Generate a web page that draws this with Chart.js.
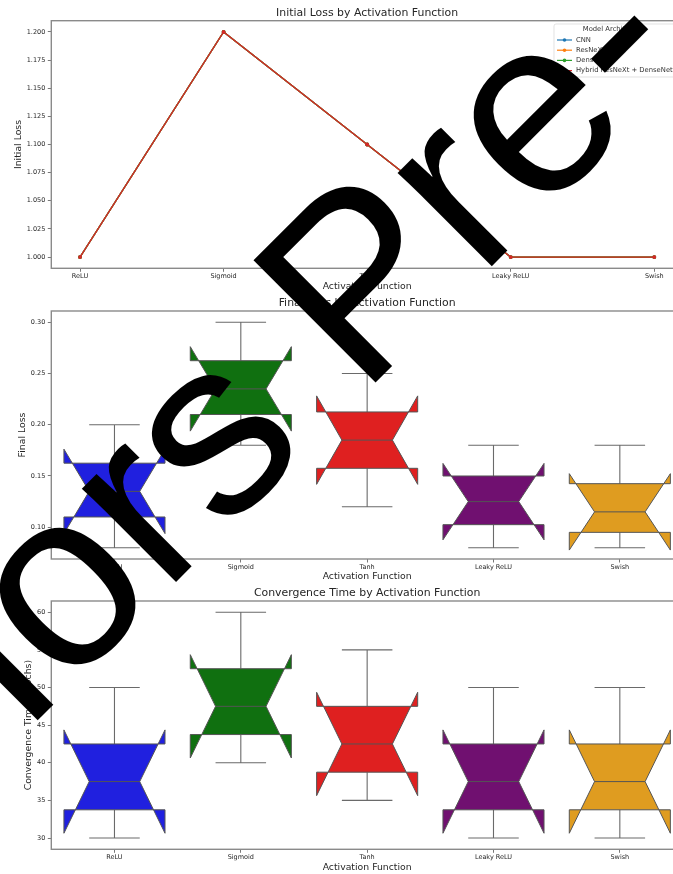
<!DOCTYPE html>
<html>
<head>
<meta charset="utf-8">
<title>Activation Function Comparison</title>
<script src="https://cdn.jsdelivr.net/npm/chart.js@4.4.1/dist/chart.umd.min.js"></script>
<style>
  html, body { margin: 0; padding: 0; background: #fff; }
  #page { position: relative; width: 673px; height: 874px; overflow: hidden; background: #fff; }
  .panel { position: absolute; left: 0; width: 673px; overflow: hidden; }
  .panel canvas { display: block; }
  #overlay { position: absolute; left: 0; top: 0; pointer-events: none; }
</style>
</head>
<body>
<div id="page">
  <div class="panel" style="top:0px;height:293px"><canvas id="initialChart" width="700" height="293"></canvas></div>
  <div class="panel" style="top:291px;height:292px"><canvas id="finalChart" width="700" height="292"></canvas></div>
  <div class="panel" style="top:581px;height:293px"><canvas id="convChart" width="700" height="292"></canvas></div>
  <canvas id="overlay" width="673" height="874"></canvas>
</div>
<script>
// ---- data ----
const activations = ['ReLU', 'Sigmoid', 'Tanh', 'Leaky ReLU', 'Swish'];
const models = ['CNN', 'ResNeXt', 'DenseNet', 'Hybrid ResNeXt + DenseNet'];

// initial loss per activation (identical for every architecture)
const initialLoss = [1.000, 1.200, 1.100, 1.000, 1.000];

// final loss samples per activation (one per architecture)
const finalReLU    = [0.08, 0.12, 0.15, 0.20];
const finalSigmoid = [0.18, 0.22, 0.25, 0.30];
const finalTanh    = [0.12, 0.17, 0.20, 0.25];
const finalLeaky   = [0.08, 0.11, 0.14, 0.18];
const finalSwish   = [0.08, 0.10, 0.13, 0.18];

// convergence time (epochs) samples per activation
const convReLU    = [30, 35, 40, 50];
const convSigmoid = [40, 45, 50, 60];
const convTanh    = [35, 40, 45, 55];
const convLeaky   = [30, 35, 40, 50];
const convSwish   = [30, 35, 40, 50];

// tick values
const initialTicks = [1.000, 1.025, 1.050, 1.075, 1.100, 1.125, 1.150, 1.175, 1.200];
const finalTicks = [0.10, 0.15, 0.20, 0.25, 0.30];
const convTicks = [30, 35, 40, 45, 50, 55, 60];

// ---- styling ----
const modelColors = ['#1f77b4', '#ff7f0e', '#2ca02c', '#d62728'];
const boxColors = ['#2020df', '#107010', '#df2020', '#701070', '#df9c20'];
const FONT = "'DejaVu Sans', sans-serif";
const TEXT = '#262626';
const SPINE = '#8a8a8a';
const TICK_SIZE = 6.5;
const LABEL_SIZE = 9.3;
const TITLE_SIZE = 10.9;

Chart.defaults.font.family = FONT;
Chart.defaults.color = TEXT;

// ---- box statistics (linear-interpolated quartiles, notch = 1.57*IQR/sqrt(n)) ----
function quantile(sorted, q) {
  const p = (sorted.length - 1) * q;
  const lo = Math.floor(p), hi = Math.ceil(p);
  return sorted[lo] + (sorted[hi] - sorted[lo]) * (p - lo);
}
function boxStats(values) {
  const s = [...values].sort((a, b) => a - b);
  const q1 = quantile(s, 0.25), med = quantile(s, 0.5), q3 = quantile(s, 0.75);
  const iqr = q3 - q1;
  const lo = Math.min(...s.filter(v => v >= q1 - 1.5 * iqr));
  const hi = Math.max(...s.filter(v => v <= q3 + 1.5 * iqr));
  const ci = 1.57 * iqr / Math.sqrt(s.length);
  return { q1, med, q3, lo, hi, cilo: med - ci, cihi: med + ci };
}

// ---- plugins ----
const frame = {
  id: 'frame',
  afterDraw(chart) {
    const { ctx, chartArea: a } = chart;
    ctx.save();
    ctx.strokeStyle = SPINE;
    ctx.lineWidth = 1.4;
    ctx.strokeRect(a.left, a.top, a.right - a.left, a.bottom - a.top);
    ctx.restore();
  }
};

const panelTitle = {
  id: 'panelTitle',
  afterDraw(chart, args, opts) {
    const { ctx, chartArea: a } = chart;
    ctx.save();
    ctx.font = `${TITLE_SIZE}px ${FONT}`;
    ctx.fillStyle = TEXT;
    ctx.textAlign = 'center';
    ctx.textBaseline = 'middle';
    ctx.fillText(opts.text, (a.left + a.right) / 2, a.top - opts.gap);
    ctx.restore();
  }
};

const notchedBoxes = {
  id: 'notchedBoxes',
  afterDatasetsDraw(chart, args, opts) {
    const { ctx, scales: { x, y } } = chart;
    const band = x.getPixelForValue(1) - x.getPixelForValue(0);
    const w = band * 0.8;
    opts.stats.forEach((s, i) => {
      const cx = x.getPixelForValue(i);
      const L = cx - w / 2, R = cx + w / 2;
      const nl = cx - w / 4, nr = cx + w / 4;
      const py = v => y.getPixelForValue(v);
      ctx.save();
      // whiskers and caps
      ctx.strokeStyle = '#6a6a6a';
      ctx.lineWidth = 1.1;
      ctx.beginPath();
      ctx.moveTo(cx, py(s.q1)); ctx.lineTo(cx, py(s.lo));
      ctx.moveTo(cx, py(s.q3)); ctx.lineTo(cx, py(s.hi));
      ctx.moveTo(cx - w / 4, py(s.lo)); ctx.lineTo(cx + w / 4, py(s.lo));
      ctx.moveTo(cx - w / 4, py(s.hi)); ctx.lineTo(cx + w / 4, py(s.hi));
      ctx.stroke();
      // notched box
      const pts = [
        [L, s.q1], [R, s.q1], [R, s.cilo], [nr, s.med], [R, s.cihi], [R, s.q3],
        [L, s.q3], [L, s.cihi], [nl, s.med], [L, s.cilo], [L, s.q1]
      ];
      ctx.beginPath();
      pts.forEach(([px, v], k) => k ? ctx.lineTo(px, py(v)) : ctx.moveTo(px, py(v)));
      ctx.closePath();
      ctx.fillStyle = opts.colors[i];
      ctx.fill();
      ctx.strokeStyle = '#555555';
      ctx.lineWidth = 1;
      ctx.stroke();
      // median
      ctx.beginPath();
      ctx.moveTo(nl, py(s.med)); ctx.lineTo(nr, py(s.med));
      ctx.stroke();
      ctx.restore();
    });
  }
};

const modelLegend = {
  id: 'modelLegend',
  afterDraw(chart, args, opts) {
    const { ctx, chartArea: a } = chart;
    const size = 6.8;
    ctx.save();
    ctx.font = `${size}px ${FONT}`;
    const textW = Math.max(...chart.data.datasets.map(d => ctx.measureText(d.label).width));
    const left = a.right - opts.fromRight;
    const top = a.top + 3.3;
    const width = 3 + 15 + 4 + textW + 3;
    const height = 53;
    ctx.globalAlpha = 0.85;
    ctx.fillStyle = '#ffffff';
    ctx.strokeStyle = '#d4d4d4';
    ctx.lineWidth = 0.8;
    ctx.beginPath();
    ctx.roundRect(left, top, width, height, 2);
    ctx.fill();
    ctx.stroke();
    ctx.globalAlpha = 1;
    ctx.fillStyle = '#333';
    ctx.textAlign = 'center';
    ctx.textBaseline = 'middle';
    ctx.fillText(opts.title, left + width / 2, top + 5.3);
    ctx.textAlign = 'left';
    chart.data.datasets.forEach((d, k) => {
      const yy = top + 16 + k * 10.2;
      ctx.strokeStyle = d.borderColor;
      ctx.lineWidth = 1.2;
      ctx.beginPath();
      ctx.moveTo(left + 3, yy); ctx.lineTo(left + 18, yy);
      ctx.stroke();
      ctx.fillStyle = d.borderColor;
      ctx.beginPath();
      ctx.arc(left + 10.5, yy, 1.8, 0, Math.PI * 2);
      ctx.fill();
      ctx.fillStyle = '#333';
      ctx.fillText(d.label, left + 22, yy);
    });
    ctx.restore();
  }
};

// ---- shared axis builders ----
function yAxis(min, max, ticks, decimals, title, titlePad) {
  return {
    type: 'linear', min, max,
    afterBuildTicks: s => { s.ticks = ticks.map(v => ({ value: v })); },
    afterFit: s => { s.width = 51.3; },
    ticks: { callback: v => v.toFixed(decimals), font: { size: TICK_SIZE }, color: TEXT, padding: 2.5 },
    grid: { drawOnChartArea: false, drawTicks: true, tickLength: 3.5, color: '#555', lineWidth: 0.8 },
    border: { display: false },
    title: { display: true, text: title, font: { size: LABEL_SIZE }, color: TEXT, padding: { top: titlePad, bottom: 0 } }
  };
}
function xTitle(padBottom) {
  return { display: true, text: 'Activation Function', font: { size: LABEL_SIZE }, color: TEXT, padding: { top: 0, bottom: padBottom } };
}
const xTicks = { font: { size: TICK_SIZE }, color: TEXT, padding: 1, autoSkip: false, maxRotation: 0 };
const xGrid = { drawOnChartArea: false, drawTicks: true, tickLength: 3.5, color: '#555', lineWidth: 0.8 };

// ---- panel 1: initial loss line chart ----
new Chart(document.getElementById('initialChart'), {
  type: 'line',
  data: {
    datasets: models.map((m, k) => ({
      label: m,
      data: initialLoss.map((v, i) => ({ x: i, y: v })),
      borderColor: modelColors[k],
      backgroundColor: modelColors[k],
      borderWidth: 1.3,
      pointRadius: 1.9,
      pointBorderWidth: 0,
      pointHoverRadius: 0,
      tension: 0,
      order: models.length - k
    }))
  },
  options: {
    responsive: false, animation: false, events: [],
    layout: { padding: { top: 20.7, left: 0, right: 17, bottom: 0 } },
    plugins: {
      legend: { display: false }, tooltip: { enabled: false },
      panelTitle: { text: 'Initial Loss by Activation Function', gap: 7.4 },
      modelLegend: { title: 'Model Architecture', fromRight: 129 }
    },
    scales: {
      x: {
        type: 'linear', min: -0.2, max: 4.2,
        afterBuildTicks: s => { s.ticks = activations.map((_, i) => ({ value: i })); },
        afterFit: s => { s.height = 24.7; },
        ticks: Object.assign({}, xTicks, { callback: v => activations[v] }),
        grid: xGrid, border: { display: false },
        title: xTitle(0.42)
      },
      y: yAxis(0.99, 1.21, initialTicks, 3, 'Initial Loss', 13.4)
    }
  },
  plugins: [frame, panelTitle, modelLegend]
});

// ---- notched box panels ----
function boxPanel(canvasId, samples, yMin, yMax, ticks, decimals, yTitle, yTitlePad, title, xHeight, xPad) {
  const stats = samples.map(boxStats);
  new Chart(document.getElementById(canvasId), {
    type: 'bar',
    data: {
      labels: activations,
      datasets: [{
        label: yTitle,
        data: stats.map(s => [s.lo, s.hi]),
        backgroundColor: 'rgba(0,0,0,0)',
        borderWidth: 0,
        categoryPercentage: 0.8,
        barPercentage: 1
      }]
    },
    options: {
      responsive: false, animation: false, events: [],
      layout: { padding: { top: 20, left: 0, right: 17, bottom: 0 } },
      plugins: {
        legend: { display: false }, tooltip: { enabled: false },
        panelTitle: { text: title, gap: 7.8 },
        notchedBoxes: { stats, colors: boxColors }
      },
      scales: {
        x: {
          type: 'category', offset: true,
          afterFit: s => { s.height = xHeight; },
          ticks: xTicks,
          grid: Object.assign({}, xGrid, { offset: false }),
          border: { display: false },
          title: xTitle(xPad)
        },
        y: yAxis(yMin, yMax, ticks, decimals, yTitle, yTitlePad)
      }
    },
    plugins: [notchedBoxes, frame, panelTitle]
  });
}

boxPanel('finalChart',
  [finalReLU, finalSigmoid, finalTanh, finalLeaky, finalSwish],
  0.069, 0.311, finalTicks, 2, 'Final Loss', 17.4,
  'Final Loss by Activation Function', 24, 0.42);

boxPanel('convChart',
  [convReLU, convSigmoid, convTanh, convLeaky, convSwish],
  28.5, 61.5, convTicks, 0, 'Convergence Time (epochs)', 23,
  'Convergence Time by Activation Function', 23.7, 0.12);

// ---- diagonal overlay lettering ----
(function () {
  const ctx = document.getElementById('overlay').getContext('2d');
  ctx.save();
  ctx.translate(361, 397);
  ctx.rotate(-Math.PI / 4);
  ctx.font = "251px 'Liberation Sans'";
  ctx.fillStyle = '#000';
  ctx.textBaseline = 'alphabetic';
  const lead = ctx.measureText('Colors ').width;
  ctx.fillText('Colors Pre-', -lead, 0);
  ctx.restore();
})();
</script>
</body>
</html>
